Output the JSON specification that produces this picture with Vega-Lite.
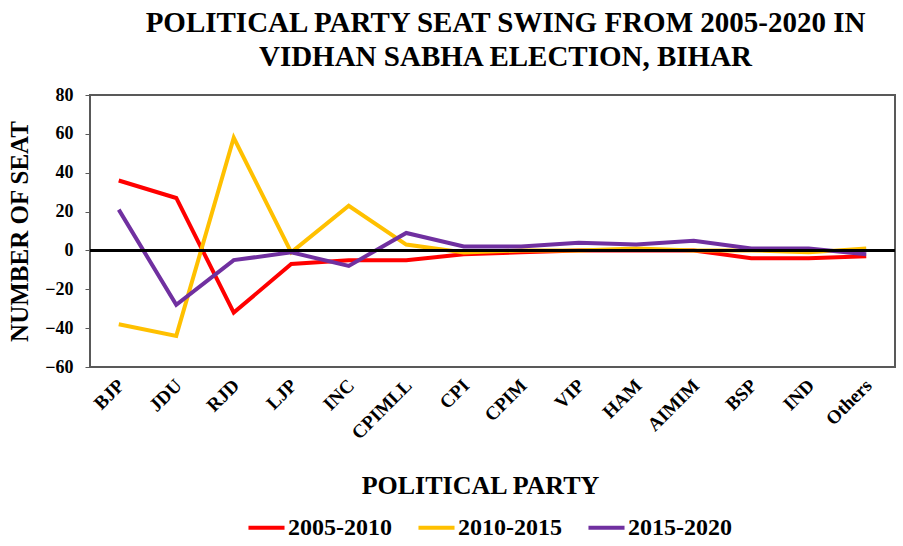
{
  "$schema": "https://vega.github.io/schema/vega-lite/v6.json",
  "width": 805,
  "height": 272,
  "autosize": {"type": "none"},
  "padding": {"left": 90, "top": 95, "right": 8, "bottom": 179},
  "background": "white",
  "title": {
    "text": ["POLITICAL PARTY SEAT SWING FROM 2005-2020 IN", "VIDHAN SABHA ELECTION, BIHAR"],
    "font": "Liberation Serif",
    "fontSize": 29,
    "fontWeight": "bold",
    "color": "black",
    "anchor": "middle",
    "dx": 13,
    "offset": 14,
    "lineHeight": 34
  },
  "config": {
    "view": {"stroke": "#595959", "strokeWidth": 2},
    "font": "Liberation Serif",
    "axis": {"labelOverlap": false, "labelBound": false, "labelFlush": false}
  },
  "data": {
    "values": [
      {"party": "BJP", "period": "2005-2010", "seats": 36},
      {"party": "JDU", "period": "2005-2010", "seats": 27},
      {"party": "RJD", "period": "2005-2010", "seats": -32},
      {"party": "LJP", "period": "2005-2010", "seats": -7},
      {"party": "INC", "period": "2005-2010", "seats": -5},
      {"party": "CPIMLL", "period": "2005-2010", "seats": -5},
      {"party": "CPI", "period": "2005-2010", "seats": -2},
      {"party": "CPIM", "period": "2005-2010", "seats": -1},
      {"party": "VIP", "period": "2005-2010", "seats": 0},
      {"party": "HAM", "period": "2005-2010", "seats": 0},
      {"party": "AIMIM", "period": "2005-2010", "seats": 0},
      {"party": "BSP", "period": "2005-2010", "seats": -4},
      {"party": "IND", "period": "2005-2010", "seats": -4},
      {"party": "Others", "period": "2005-2010", "seats": -3},
      {"party": "BJP", "period": "2010-2015", "seats": -38},
      {"party": "JDU", "period": "2010-2015", "seats": -44},
      {"party": "RJD", "period": "2010-2015", "seats": 58},
      {"party": "LJP", "period": "2010-2015", "seats": -1},
      {"party": "INC", "period": "2010-2015", "seats": 23},
      {"party": "CPIMLL", "period": "2010-2015", "seats": 3},
      {"party": "CPI", "period": "2010-2015", "seats": -1},
      {"party": "CPIM", "period": "2010-2015", "seats": 0},
      {"party": "VIP", "period": "2010-2015", "seats": 0},
      {"party": "HAM", "period": "2010-2015", "seats": 1},
      {"party": "AIMIM", "period": "2010-2015", "seats": 0},
      {"party": "BSP", "period": "2010-2015", "seats": 0},
      {"party": "IND", "period": "2010-2015", "seats": -1},
      {"party": "Others", "period": "2010-2015", "seats": 1},
      {"party": "BJP", "period": "2015-2020", "seats": 21},
      {"party": "JDU", "period": "2015-2020", "seats": -28},
      {"party": "RJD", "period": "2015-2020", "seats": -5},
      {"party": "LJP", "period": "2015-2020", "seats": -1},
      {"party": "INC", "period": "2015-2020", "seats": -8},
      {"party": "CPIMLL", "period": "2015-2020", "seats": 9},
      {"party": "CPI", "period": "2015-2020", "seats": 2},
      {"party": "CPIM", "period": "2015-2020", "seats": 2},
      {"party": "VIP", "period": "2015-2020", "seats": 4},
      {"party": "HAM", "period": "2015-2020", "seats": 3},
      {"party": "AIMIM", "period": "2015-2020", "seats": 5},
      {"party": "BSP", "period": "2015-2020", "seats": 1},
      {"party": "IND", "period": "2015-2020", "seats": 1},
      {"party": "Others", "period": "2015-2020", "seats": -2}
    ]
  },
  "layer": [
    {
      "mark": {"type": "line", "strokeWidth": 4},
      "encoding": {
        "x": {
          "field": "party",
          "type": "nominal",
          "sort": ["BJP", "JDU", "RJD", "LJP", "INC", "CPIMLL", "CPI", "CPIM", "VIP", "HAM", "AIMIM", "BSP", "IND", "Others"],
          "scale": {"paddingOuter": 0.5, "paddingInner": 0},
          "axis": {
            "title": "POLITICAL PARTY",
            "titleFont": "Liberation Serif",
            "titleFontSize": 26,
            "titleFontWeight": "bold",
            "titleColor": "black",
            "titlePadding": 30,
            "titleX": 390,
            "labelFont": "Liberation Serif",
            "labelFontSize": 19,
            "labelFontWeight": "bold",
            "labelColor": "black",
            "labelAngle": -45,
            "labelAlign": "right",
            "labelBaseline": "middle",
            "labelPadding": 15,
            "labelOffset": 2,
            "ticks": false,
            "domain": false
          }
        },
        "y": {
          "field": "seats",
          "type": "quantitative",
          "scale": {"domain": [-60, 80], "nice": false},
          "axis": {
            "title": "NUMBER OF SEAT",
            "titleFont": "Liberation Serif",
            "titleFontSize": 25,
            "titleFontWeight": "bold",
            "titleColor": "black",
            "titlePadding": 12,
            "labelFont": "Liberation Serif",
            "labelFontSize": 18,
            "labelFontWeight": "bold",
            "labelColor": "black",
            "labelOverlap": false,
            "tickCount": 10,
            "values": [-60, -40, -20, 0, 20, 40, 60, 80],
            "grid": false,
            "domain": false,
            "tickColor": "#595959",
            "tickSize": 5,
            "labelPadding": 12
          }
        },
        "color": {
          "field": "period",
          "type": "nominal",
          "scale": {"domain": ["2005-2010", "2010-2015", "2015-2020"], "range": ["#FF0000", "#FFC000", "#7030A0"]},
          "legend": {
            "title": null,
            "orient": "none",
            "direction": "horizontal",
            "legendX": 156,
            "legendY": 412,
            "symbolType": "stroke",
            "symbolStrokeWidth": 4,
            "symbolSize": 1300,
            "labelFont": "Liberation Serif",
            "labelFontSize": 24,
            "labelFontWeight": "bold",
            "labelColor": "black",
            "labelOffset": 1,
            "columnPadding": 18
          }
        }
      }
    },
    {
      "mark": {"type": "rule", "color": "black", "strokeWidth": 2},
      "encoding": {"y": {"datum": 0, "type": "quantitative"}}
    }
  ]
}
